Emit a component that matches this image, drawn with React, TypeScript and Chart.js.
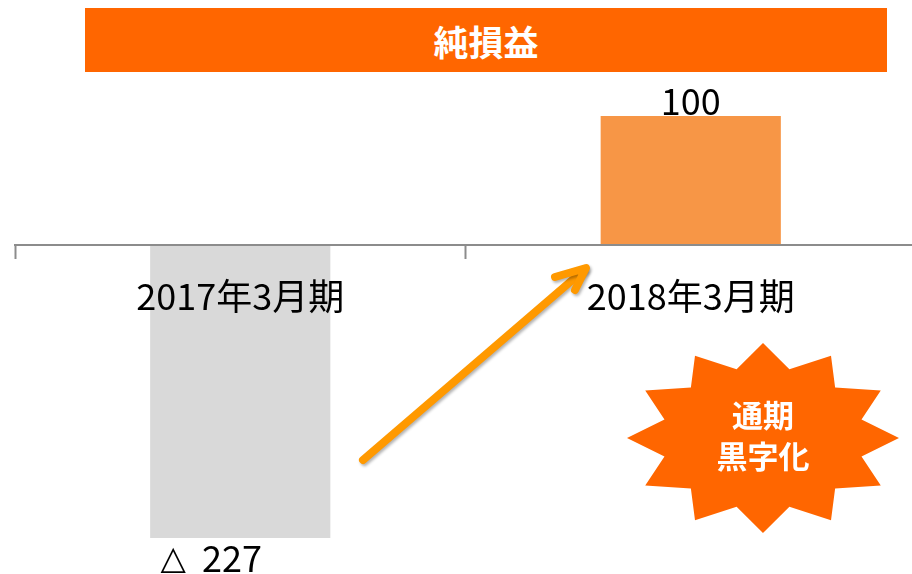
import React, { useEffect, useRef } from "react";
import { Chart, registerables } from "chart.js";

Chart.register(...registerables);

const TITLE = "純損益";
const CATEGORIES = ["2017年3月期", "2018年3月期"];
const NET_INCOME = [-227, 100];
const BAR_COLORS = ["#D9D9D9", "#F79646"];
const BADGE_LINES = ["通期", "黒字化"];
const NEG_MARK = "△";
const Y_MIN = -255;
const Y_MAX = 190;

const FONT = '"Noto Sans CJK JP", "Noto Sans", sans-serif';

const decorPlugin = {
  id: "decor",
  afterDatasetsDraw(chart: any) {
    const ctx = chart.ctx;
    const meta = chart.getDatasetMeta(0);
    ctx.save();
    ctx.fillStyle = "#000";
    ctx.textBaseline = "middle";
    meta.data.forEach((bar: any, i: number) => {
      const v = NET_INCOME[i];
      if (v >= 0) {
        ctx.font = `36px ${FONT}`;
        ctx.textAlign = "center";
        ctx.fillText(String(v), bar.x, bar.y - 15);
      } else {
        const numText = "  " + Math.abs(v);
        ctx.font = `36px ${FONT}`;
        const wNum = ctx.measureText(numText).width;
        ctx.font = `33px "DejaVu Sans", sans-serif`;
        const wMark = ctx.measureText(NEG_MARK).width;
        const total = wMark + wNum;
        const left = bar.x - 29 - total / 2;
        const y = bar.y + 20;
        ctx.textAlign = "left";
        ctx.fillText(NEG_MARK, left, y + 3);
        ctx.font = `36px ${FONT}`;
        ctx.fillText(numText, left + wMark, y);
      }
    });
    ctx.restore();
  },
  afterDraw(chart: any) {
    const ctx = chart.ctx;
    // arrow
    ctx.save();
    ctx.strokeStyle = "#FF9900";
    ctx.lineWidth = 8;
    ctx.lineCap = "round";
    ctx.lineJoin = "round";
    ctx.shadowColor = "rgba(0,0,0,0.3)";
    ctx.shadowBlur = 3;
    ctx.shadowOffsetX = 1.5;
    ctx.shadowOffsetY = 2;
    ctx.beginPath();
    ctx.moveTo(363, 460);
    ctx.lineTo(584, 270);
    ctx.stroke();
    ctx.beginPath();
    ctx.moveTo(555, 277);
    ctx.lineTo(586, 268);
    ctx.lineTo(575, 290);
    ctx.stroke();
    ctx.restore();

    // starburst badge
    const cx = 763, cy = 438, rx = 136, ry = 95, inner = 0.75, n = 12;
    ctx.save();
    ctx.fillStyle = "#FF6600";
    ctx.beginPath();
    for (let k = 0; k < n * 2; k++) {
      const a = -Math.PI / 2 + (k * Math.PI) / n;
      const r = k % 2 === 0 ? 1 : inner;
      const px = cx + Math.cos(a) * rx * r;
      const py = cy + Math.sin(a) * ry * r;
      if (k === 0) ctx.moveTo(px, py);
      else ctx.lineTo(px, py);
    }
    ctx.closePath();
    ctx.fill();
    ctx.fillStyle = "#FFFFFF";
    ctx.font = `bold 31px ${FONT}`;
    ctx.textAlign = "center";
    ctx.textBaseline = "middle";
    ctx.fillText(BADGE_LINES[0], cx, 415);
    ctx.fillText(BADGE_LINES[1], cx, 456);
    ctx.restore();
  },
};

export default function App() {
  const ref = useRef<HTMLCanvasElement | null>(null);
  useEffect(() => {
    if (!ref.current) return;
    const chart = new Chart(ref.current, {
      type: "bar",
      data: {
        labels: CATEGORIES,
        datasets: [
          {
            data: NET_INCOME,
            backgroundColor: BAR_COLORS,
            borderWidth: 0,
            barPercentage: 0.4,
            categoryPercentage: 1,
          },
        ],
      },
      options: {
        animation: false,
        responsive: false,
        maintainAspectRatio: false,
        layout: { padding: { left: 15, right: 0, top: 0, bottom: 0 } },
        plugins: {
          legend: { display: false },
          tooltip: { enabled: false },
          title: { display: false },
        },
        scales: {
          x: {
            position: { y: 0 } as any,
            offset: true,
            grid: {
              display: true,
              offset: true,
              drawOnChartArea: false,
              drawTicks: true,
              tickLength: 13,
              tickWidth: 2,
              tickColor: "#8C8C8C",
              z: 1,
            },
            border: { display: true, color: "#8C8C8C", width: 2, z: 1 },
            ticks: {
              color: "#000",
              padding: 17,
              z: 1,
              font: { family: FONT, size: 36 },
            },
          } as any,
          y: {
            display: false,
            min: Y_MIN,
            max: Y_MAX,
          },
        },
      },
      plugins: [decorPlugin],
    });
    return () => chart.destroy();
  }, []);

  return (
    <div
      style={{
        position: "fixed",
        left: 0,
        top: 0,
        width: 912,
        height: 574,
        overflow: "hidden",
        background: "#fff",
      }}
    >
      <canvas ref={ref} width={916} height={574} style={{ display: "block" }} />
      <div
        style={{
          position: "absolute",
          left: 85,
          top: 8,
          width: 802,
          height: 64,
          background: "#FF6600",
          color: "#fff",
          fontFamily: FONT,
          fontWeight: "bold",
          fontSize: 35,
          display: "flex",
          alignItems: "center",
          justifyContent: "center",
        }}
      >
        {TITLE}
      </div>
    </div>
  );
}
